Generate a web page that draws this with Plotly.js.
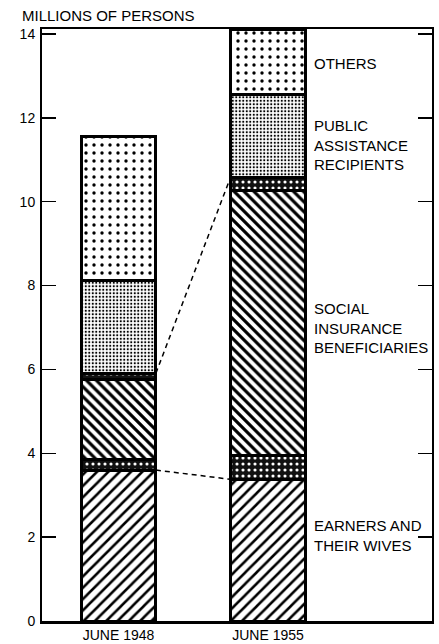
<!DOCTYPE html>
<html><head><meta charset="utf-8">
<script src="https://cdn.plot.ly/plotly-3.0.1.min.js"></script>
<style>html,body{margin:0;padding:0;background:#fff}#chart{width:439px;height:644px}</style>
</head><body><div id="chart"></div>
<script>
// Data (millions of persons)
const periods = ["JUNE 1948", "JUNE 1955"];
const earners = [3.60, 3.38];
const earnersAndBeneficiaries = [0.25, 0.57];
const socialInsurance = [1.90, 6.31];
const insuranceAndAssistance = [0.16, 0.33];
const publicAssistance = [2.22, 1.96];
const others = [3.42, 1.55];
const yTicks = [0, 2, 4, 6, 8, 10, 12, 14];

const xpos = periods.map((_, i) => i);
const barW = 0.5;
const common = {type: 'bar', x: xpos, width: barW, hoverinfo: 'skip', showlegend: false};
function seg(y, pattern) {
  return Object.assign({}, common, {
    y: y,
    marker: {color: pattern.bg || '#fff', line: {color: '#000', width: 3}, pattern: pattern}
  });
}
const bandPattern = {shape: '.', fgcolor: '#fff', bgcolor: '#111', size: 6, solidity: 0.22, bg: '#111'};
const traces = [
  seg(earners, {shape: '/', fgcolor: '#000', bgcolor: '#fff', size: 8, solidity: 0.32}),
  seg(earnersAndBeneficiaries, bandPattern),
  seg(socialInsurance, {shape: '\\', fgcolor: '#000', bgcolor: '#fff', size: 7, solidity: 0.45}),
  seg(insuranceAndAssistance, bandPattern),
  seg(publicAssistance, {shape: '.', fgcolor: '#000', bgcolor: '#fff', size: 3.5, solidity: 0.3}),
  seg(others, {shape: '.', fgcolor: '#000', bgcolor: '#fff', size: 8, solidity: 0.14})
];

// dashed connectors: top of earners, and top of the insurance/assistance overlap band
const cum = (arrs, i) => arrs.reduce((s, a) => s + a[i], 0);
const topEarners = [earners[0], earners[1]];
const topBand = [0, 1].map(i => cum([earners, earnersAndBeneficiaries, socialInsurance, insuranceAndAssistance], i));
[topEarners, topBand].forEach(v => {
  traces.push({type: 'scatter', mode: 'lines', x: [xpos[0] + barW / 2, xpos[1] - barW / 2], y: v,
    line: {color: '#000', width: 1.5, dash: '5px,4px'}, hoverinfo: 'skip', showlegend: false});
});

const labelFont = {family: 'Liberation Sans, Arial, sans-serif', size: 15, color: '#000'};
const lx = (312 - 42) / 390;
const labels = [
  {text: 'OTHERS', y: 13.3},
  {text: 'PUBLIC<br>ASSISTANCE<br>RECIPIENTS', y: 11.35},
  {text: 'SOCIAL<br>INSURANCE<br>BENEFICIARIES', y: 7.0},
  {text: 'EARNERS AND<br>THEIR WIVES', y: 2.05}
];

const layout = {
  width: 439, height: 644,
  margin: {l: 42, r: 7, t: 29, b: 23},
  paper_bgcolor: '#fff', plot_bgcolor: '#fff',
  barmode: 'stack', bargap: 0,
  font: {family: 'Liberation Sans, Arial, sans-serif', color: '#000'},
  title: {text: 'MILLIONS OF PERSONS', xref: 'container', yref: 'container', x: 22 / 439, xanchor: 'left',
          y: 1 - 16 / 644, yanchor: 'middle', font: {size: 15, color: '#000'}},
  xaxis: {range: [-0.512, 2.097], tickvals: xpos, ticktext: periods, ticks: '', showgrid: false, zeroline: false,
          showline: true, linecolor: '#000', linewidth: 2.5, mirror: true, tickfont: {size: 14},
          ticklabelstandoff: 0, fixedrange: true},
  yaxis: {range: [0, 14.12], tickvals: yTicks, ticks: 'inside', ticklen: 14, tickwidth: 1.5, tickcolor: '#000',
          showgrid: false, zeroline: false, showline: true, linecolor: '#000', linewidth: 2, mirror: 'ticks',
          tickfont: {size: 14}, ticklabelstandoff: 2, fixedrange: true},
  annotations: labels.map(l => ({text: l.text, xref: 'paper', yref: 'y', x: lx, y: l.y, xanchor: 'left', yanchor: 'middle',
    align: 'left', showarrow: false, font: labelFont}))
};
Plotly.newPlot('chart', traces, layout, {staticPlot: true});
</script></body></html>
